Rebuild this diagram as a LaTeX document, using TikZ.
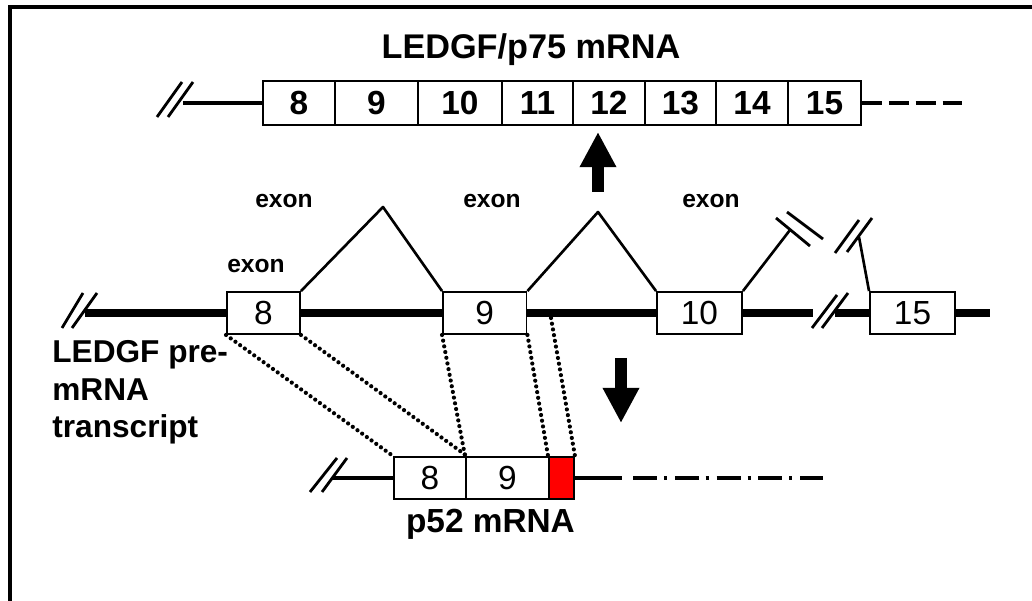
\documentclass[tikz,border=0pt]{standalone}
\usepackage{fontspec}
\setmainfont{Liberation Sans}
\usetikzlibrary{arrows.meta,positioning,calc}

\begin{document}
\begin{tikzpicture}[x=0.02cm,y=-0.02cm,>=Latex,
    ebox/.style={draw,line width=1.1pt,fill=white,inner sep=0pt,minimum height=0.84cm,font=\fontsize{19}{19}\selectfont},
    lbl/.style={inner sep=0pt,font=\bfseries\fontsize{14}{14}\selectfont},
    cut/.style={line width=1.6pt},
    dots/.style={line width=2.4pt,dash pattern=on 0pt off 3.3pt,line cap=round},
    bigarrow/.style={-{Triangle[width=19.5pt,length=20pt]},line width=6.8pt}]
    \useasboundingbox (0,0) rectangle (1032,601);
    \draw[line width=2pt] (10,601) -- (10,7) -- (1032,7);

    \node[anchor=base,font=\bfseries\fontsize{19.5}{20}\selectfont] (ttl) at (531,59) {LEDGF/p75 mRNA};
    \foreach \a/\b/\n in {263/335/8,335/418/9,418/502/10,502/573/11,573/645/12,645/716/13,716/788/14,788/861/15}
      \node[ebox,font=\bfseries\fontsize{19}{19}\selectfont,minimum height=0.88cm,minimum width={(\b-\a)*0.02cm}] (t\n) at ({(\a+\b)/2},103) {\n};
    \coordinate (tl) at (183,103);
    \coordinate (tr) at (965,103);
    \draw[line width=1.8pt] (tl) -- (t8);
    \draw[line width=2.2pt,dash pattern=on 11.3pt off 4pt] (t15.east) -- (tr);

    \coordinate (ua) at (598,192);
    \coordinate (ub) at (598,132);
    \draw[bigarrow] (ua) -- (ub);
    \coordinate (da) at (621,358);
    \coordinate (db) at (621,423);
    \draw[bigarrow] (da) -- (db);

    \coordinate (pl) at (85,313);
    \coordinate (pa) at (813,313);
    \coordinate (pb) at (835,313);
    \coordinate (pr) at (990,313);
    \draw[line width=5.1pt] (pl) -- (pa) (pb) -- (pr);
    \node[ebox,minimum width=1.46cm] (p8) at (263.5,313) {8};
    \node[ebox,minimum width=1.67cm] (p9) at (484.75,313) {9};
    \node[ebox,minimum width=1.7cm] (p10) at (699.5,313) {10};
    \node[ebox,minimum width=1.7cm] (p15) at (912.5,313) {15};

    \coordinate (k1) at (383,207);
    \coordinate (k2) at (598,212);
    \coordinate (k3) at (790,230);
    \coordinate (k4) at (859,237);
    \draw[line width=1.5pt,line join=round] (p8.north east) -- (k1) -- (p9.north west);
    \draw[line width=1.5pt,line join=round] (p9.north east) -- (k2) -- (p10.north west);
    \draw[line width=1.5pt] (p10.north east) -- (k3);
    \draw[line width=1.5pt] (p15.north west) -- (k4);

    \node[lbl] (e1) at (284,201) {exon};
    \node[lbl] (e2) at (492,201) {exon};
    \node[lbl] (e3) at (711,201) {exon};
    \node[lbl] (e4) at (256,266) {exon};

    \foreach \x/\y/\u/\v in {157/117/182/82,168/117/193/82,62/328/83/293,72/328/97/293,
        812/328/837/295,822/328/848/293,776/218/810/246,787/212/823/239,
        835/253/859/220,847/252/872/218,310/492/337/458,322/492/347/458}
      \draw[cut] (\x,\y) -- (\u,\v);

    \node[anchor=north west,align=left,inner sep=0pt,font=\bfseries\fontsize{18}{21.5}\selectfont] (pre) at (52,340) {LEDGF pre-\\mRNA\\transcript};

    \coordinate (bl) at (333,478);
    \coordinate (bm) at (622,478);
    \coordinate (dd) at (633,478);
    \coordinate (br) at (823,478);
    \node[ebox,minimum width=1.44cm] (b8) at (430,478) {8};
    \node[ebox,minimum width=1.66cm] (b9) at (507.5,478) {9};
    \node[ebox,fill=red,minimum width=0.5cm] (rd) at (561.5,478) {};
    \draw[line width=2.4pt] (bl) -- (b8.west);
    \draw[line width=2.6pt] (rd.east) -- (bm);
    \draw[line width=2.6pt,dash pattern=on 13.6pt off 4pt on 1.7pt off 4.5pt] (dd) -- (br);
    \node[anchor=base,font=\bfseries\fontsize{19}{19}\selectfont] (p52) at (490.5,532) {p52 mRNA};

    \coordinate (sp) at (551,318);
    \draw[dots] (p8.south west) -- (b8.north west);
    \draw[dots] (p8.south east) -- (b8.north east);
    \draw[dots] (p9.south west) -- (b9.north west);
    \draw[dots] (p9.south east) -- (rd.north west);
    \draw[dots] (sp) -- (rd.north east);
\end{tikzpicture}
\end{document}
